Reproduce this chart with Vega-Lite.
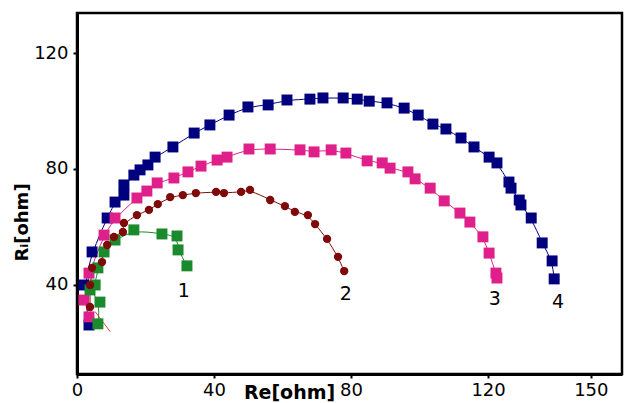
{
  "$schema": "https://vega.github.io/schema/vega-lite/v6.json",
  "width": 545,
  "height": 361,
  "autosize": "none",
  "padding": {"left": 77, "top": 13, "right": 6, "bottom": 29},
  "background": "white",
  "config": {"view": {"stroke": "black", "strokeWidth": 2.5}, "font": "DejaVu Sans"},
  "datasets": {
    "pts": [
      {"s": "4", "i": 1, "x": 3.5, "y": 26.2}, {"s": "4", "i": 2, "x": 2.0, "y": 40.0}, {"s": "4", "i": 3, "x": 4.4, "y": 51.4},
      {"s": "4", "i": 4, "x": 8.8, "y": 63.1}, {"s": "4", "i": 5, "x": 11.1, "y": 68.6}, {"s": "4", "i": 6, "x": 13.7, "y": 71.0},
      {"s": "4", "i": 7, "x": 13.7, "y": 74.5}, {"s": "4", "i": 8, "x": 16.6, "y": 77.9}, {"s": "4", "i": 9, "x": 18.4, "y": 79.7},
      {"s": "4", "i": 10, "x": 20.7, "y": 81.4}, {"s": "4", "i": 11, "x": 22.8, "y": 84.1}, {"s": "4", "i": 12, "x": 28.0, "y": 87.6},
      {"s": "4", "i": 13, "x": 34.2, "y": 92.4}, {"s": "4", "i": 14, "x": 38.8, "y": 95.2}, {"s": "4", "i": 15, "x": 44.4, "y": 98.6},
      {"s": "4", "i": 16, "x": 49.9, "y": 101.4}, {"s": "4", "i": 17, "x": 55.8, "y": 102.1}, {"s": "4", "i": 18, "x": 61.3, "y": 103.8},
      {"s": "4", "i": 19, "x": 68.0, "y": 104.1}, {"s": "4", "i": 20, "x": 71.8, "y": 104.5}, {"s": "4", "i": 21, "x": 77.7, "y": 104.5},
      {"s": "4", "i": 22, "x": 81.8, "y": 104.1}, {"s": "4", "i": 23, "x": 85.3, "y": 103.4}, {"s": "4", "i": 24, "x": 90.5, "y": 102.8},
      {"s": "4", "i": 25, "x": 95.5, "y": 101.0}, {"s": "4", "i": 26, "x": 99.6, "y": 98.6}, {"s": "4", "i": 27, "x": 103.9, "y": 95.5},
      {"s": "4", "i": 28, "x": 107.7, "y": 93.8}, {"s": "4", "i": 29, "x": 112.1, "y": 90.7}, {"s": "4", "i": 30, "x": 115.9, "y": 87.6},
      {"s": "4", "i": 31, "x": 120.3, "y": 84.1}, {"s": "4", "i": 32, "x": 122.6, "y": 82.1}, {"s": "4", "i": 33, "x": 126.1, "y": 75.5},
      {"s": "4", "i": 34, "x": 126.7, "y": 73.4}, {"s": "4", "i": 35, "x": 129.1, "y": 69.3}, {"s": "4", "i": 36, "x": 129.6, "y": 67.6},
      {"s": "4", "i": 37, "x": 132.6, "y": 63.1}, {"s": "4", "i": 38, "x": 135.8, "y": 54.5}, {"s": "4", "i": 39, "x": 138.7, "y": 48.3},
      {"s": "4", "i": 40, "x": 139.3, "y": 42.1},
      {"s": "3", "i": 1, "x": 3.5, "y": 29.0}, {"s": "3", "i": 2, "x": 2.0, "y": 34.8}, {"s": "3", "i": 3, "x": 3.5, "y": 44.1},
      {"s": "3", "i": 4, "x": 7.9, "y": 57.2}, {"s": "3", "i": 5, "x": 11.1, "y": 63.1}, {"s": "3", "i": 6, "x": 17.5, "y": 70.0},
      {"s": "3", "i": 7, "x": 20.4, "y": 72.4}, {"s": "3", "i": 8, "x": 23.4, "y": 75.2}, {"s": "3", "i": 9, "x": 28.3, "y": 76.9},
      {"s": "3", "i": 10, "x": 32.4, "y": 79.0}, {"s": "3", "i": 11, "x": 36.2, "y": 81.0}, {"s": "3", "i": 12, "x": 40.9, "y": 83.1},
      {"s": "3", "i": 13, "x": 43.8, "y": 84.1}, {"s": "3", "i": 14, "x": 50.2, "y": 86.9}, {"s": "3", "i": 15, "x": 56.4, "y": 86.9},
      {"s": "3", "i": 16, "x": 65.1, "y": 86.6}, {"s": "3", "i": 17, "x": 69.2, "y": 85.9}, {"s": "3", "i": 18, "x": 74.2, "y": 86.6},
      {"s": "3", "i": 19, "x": 78.5, "y": 85.5}, {"s": "3", "i": 20, "x": 84.7, "y": 82.8}, {"s": "3", "i": 21, "x": 89.1, "y": 82.1},
      {"s": "3", "i": 22, "x": 91.4, "y": 80.3}, {"s": "3", "i": 23, "x": 96.6, "y": 79.0}, {"s": "3", "i": 24, "x": 98.7, "y": 76.6},
      {"s": "3", "i": 25, "x": 103.1, "y": 73.4}, {"s": "3", "i": 26, "x": 107.2, "y": 69.0}, {"s": "3", "i": 27, "x": 111.8, "y": 64.8},
      {"s": "3", "i": 28, "x": 114.7, "y": 61.7}, {"s": "3", "i": 29, "x": 118.5, "y": 56.6}, {"s": "3", "i": 30, "x": 120.3, "y": 51.0},
      {"s": "3", "i": 31, "x": 122.3, "y": 44.1}, {"s": "3", "i": 32, "x": 122.6, "y": 42.4},
      {"s": "1", "i": 1, "x": 6.1, "y": 26.6}, {"s": "1", "i": 2, "x": 6.7, "y": 34.1}, {"s": "1", "i": 3, "x": 3.8, "y": 38.3},
      {"s": "1", "i": 4, "x": 5.3, "y": 40.0}, {"s": "1", "i": 5, "x": 6.1, "y": 45.9}, {"s": "1", "i": 6, "x": 7.9, "y": 51.4},
      {"s": "1", "i": 7, "x": 11.1, "y": 55.5}, {"s": "1", "i": 8, "x": 16.6, "y": 59.0}, {"s": "1", "i": 9, "x": 24.8, "y": 57.6},
      {"s": "1", "i": 10, "x": 29.2, "y": 56.9}, {"s": "1", "i": 11, "x": 29.5, "y": 52.1}, {"s": "1", "i": 12, "x": 32.1, "y": 46.6},
      {"s": "2", "i": 1, "x": 3.8, "y": 32.4}, {"s": "2", "i": 2, "x": 3.8, "y": 40.0}, {"s": "2", "i": 3, "x": 4.4, "y": 45.9},
      {"s": "2", "i": 4, "x": 7.3, "y": 47.9}, {"s": "2", "i": 5, "x": 8.8, "y": 53.8}, {"s": "2", "i": 6, "x": 10.8, "y": 56.6},
      {"s": "2", "i": 7, "x": 13.4, "y": 58.3}, {"s": "2", "i": 8, "x": 13.7, "y": 61.4}, {"s": "2", "i": 9, "x": 17.5, "y": 64.1},
      {"s": "2", "i": 10, "x": 21.0, "y": 65.9}, {"s": "2", "i": 11, "x": 23.6, "y": 67.9}, {"s": "2", "i": 12, "x": 27.2, "y": 70.3},
      {"s": "2", "i": 13, "x": 30.9, "y": 71.0}, {"s": "2", "i": 14, "x": 34.7, "y": 71.7}, {"s": "2", "i": 15, "x": 40.6, "y": 72.1},
      {"s": "2", "i": 16, "x": 42.9, "y": 71.7}, {"s": "2", "i": 17, "x": 47.9, "y": 72.1}, {"s": "2", "i": 18, "x": 50.5, "y": 72.8},
      {"s": "2", "i": 19, "x": 56.4, "y": 69.3}, {"s": "2", "i": 20, "x": 60.7, "y": 67.2}, {"s": "2", "i": 21, "x": 63.6, "y": 65.2},
      {"s": "2", "i": 22, "x": 67.4, "y": 64.1}, {"s": "2", "i": 23, "x": 69.5, "y": 61.0}, {"s": "2", "i": 24, "x": 73.0, "y": 55.9},
      {"s": "2", "i": 25, "x": 76.2, "y": 49.7}, {"s": "2", "i": 26, "x": 78.0, "y": 44.8}
    ],
    "tail": [
      {"x": 5.3, "y": 30.8}, {"x": 9.7, "y": 23.9}
    ],
    "labels": [
      {"t": "1", "x": 31.2, "y": 37.9}, {"t": "2", "x": 78.5, "y": 36.9},
      {"t": "3", "x": 122.0, "y": 35.2}, {"t": "4", "x": 140.4, "y": 34.1}
    ]
  },
  "encoding": {
    "x": {
      "field": "x", "type": "quantitative",
      "scale": {"domain": [0, 159.1], "nice": false, "zero": false},
      "axis": {
        "values": [0, 40, 80, 120, 150], "grid": false, "title": "Re[ohm]",
        "titleFont": "DejaVu Sans", "titleFontSize": 19, "titleFontWeight": "bold", "titleColor": "black",
        "titleX": 212, "titleY": 24, "titleBaseline": "alphabetic", "titleAlign": "center",
        "labelFont": "DejaVu Sans", "labelFontSize": 18, "labelColor": "black", "labelPadding": 3,
        "labelFlush": false, "labelOverlap": false,
        "domainColor": "black", "domainWidth": 3, "tickColor": "black", "tickSize": 4, "tickWidth": 2
      }
    },
    "y": {
      "field": "y", "type": "quantitative",
      "scale": {"domain": [9.3, 133.8], "nice": false, "zero": false},
      "axis": {
        "values": [40, 80, 120], "grid": false, "title": "Rᵢ[ohm]",
        "titleFont": "DejaVu Sans", "titleFontSize": 18, "titleFontWeight": "bold", "titleColor": "black",
        "titleX": -55, "titleY": 209, "titleAngle": 270, "titleAlign": "center", "titleBaseline": "middle",
        "labelFont": "DejaVu Sans", "labelFontSize": 18, "labelColor": "black", "labelPadding": 5,
        "labelFlush": false, "labelOverlap": false,
        "domainColor": "black", "domainWidth": 3, "tickColor": "black", "tickSize": 4, "tickWidth": 2
      }
    }
  },
  "layer": [
    {
      "data": {"name": "pts"},
      "mark": {"type": "line", "interpolate": "basis", "strokeWidth": 1},
      "encoding": {
        "color": {"field": "s", "type": "nominal", "legend": null,
          "scale": {"domain": ["1", "2", "3", "4"], "range": ["#1B8A2C", "#7E0A0A", "#E0208A", "#00007F"]}},
        "detail": {"field": "s"},
        "order": {"field": "i", "type": "quantitative"}
      }
    },
    {
      "data": {"name": "tail"},
      "mark": {"type": "line", "color": "#D8442E", "strokeWidth": 1},
      "encoding": {}
    },
    {
      "data": {"name": "pts"},
      "transform": [{"filter": "datum.s != '2'"}],
      "mark": {"type": "point", "shape": "square", "filled": true, "opacity": 1, "size": 120},
      "encoding": {
        "color": {"field": "s", "type": "nominal", "legend": null,
          "scale": {"domain": ["1", "2", "3", "4"], "range": ["#1B8A2C", "#7E0A0A", "#FF1A8C", "#00007F"]}}
      }
    },
    {
      "data": {"name": "pts"},
      "transform": [{"filter": "datum.s == '2'"}],
      "mark": {"type": "point", "shape": "circle", "filled": true, "opacity": 1, "size": 70, "color": "#7E0A0A"},
      "encoding": {}
    },
    {
      "data": {"name": "labels"},
      "mark": {"type": "text", "font": "DejaVu Sans", "fontSize": 19, "color": "black", "align": "center", "baseline": "middle"},
      "encoding": {"text": {"field": "t"}}
    }
  ]
}
